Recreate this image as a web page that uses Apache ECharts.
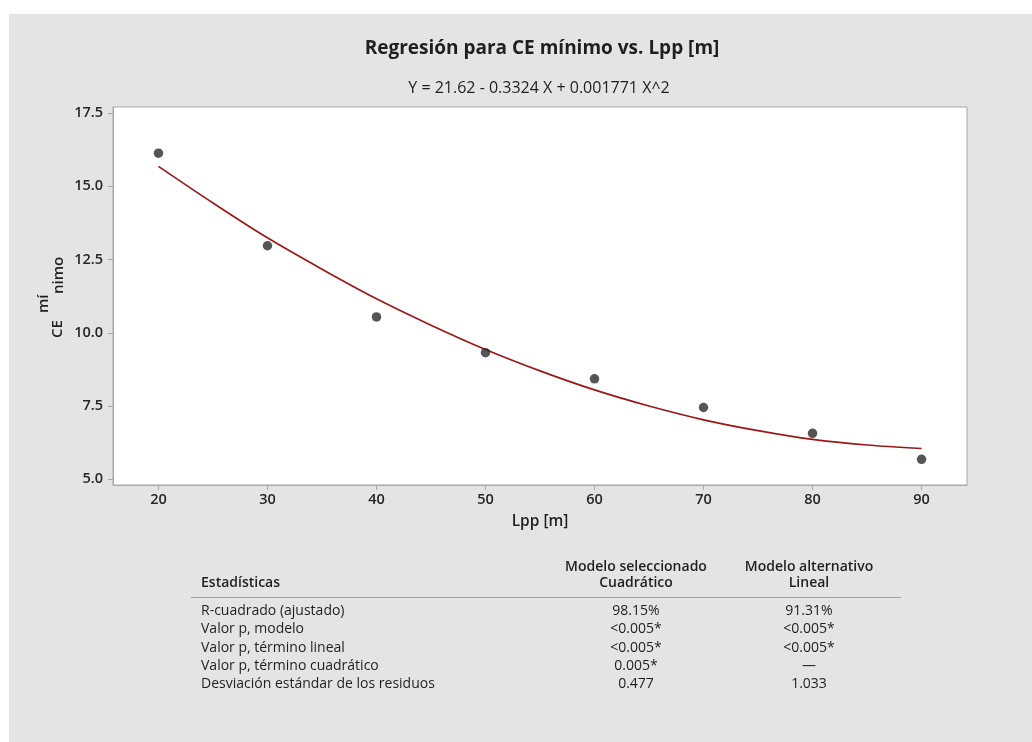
<!DOCTYPE html>
<html>
<head>
<meta charset="utf-8">
<script src="https://cdn.jsdelivr.net/npm/echarts@6/dist/echarts.min.js"></script>
<style>
html,body{margin:0;padding:0;background:#fff;}
#c{width:1032px;height:742px;}
</style>
</head>
<body>
<div id="c"></div>
<script>
// ---- Data ----
var lpp = [20, 30, 40, 50, 60, 70, 80, 90];
var ceMinimo = [16.13, 12.97, 10.54, 9.32, 8.43, 7.45, 6.57, 5.68];
// fitted curve
var fitX = [20, 25, 30, 35, 40, 45, 50, 55, 60, 65, 70, 75, 80, 85, 90];
var fitY = [15.68, 14.43, 13.24, 12.17, 11.16, 10.26, 9.43, 8.70, 8.05, 7.50, 7.03, 6.66, 6.36, 6.17, 6.05];
var xTicks = [20, 30, 40, 50, 60, 70, 80, 90];
var yTicks = [5.0, 7.5, 10.0, 12.5, 15.0, 17.5];

// table texts
var tableHeaderLeft = 'Estadísticas';
var colHeaders = [['Modelo seleccionado', 'Cuadrático'], ['Modelo alternativo', 'Lineal']];
var rowLabels = ['R-cuadrado (ajustado)', 'Valor p, modelo', 'Valor p, término lineal', 'Valor p, término cuadrático', 'Desviación estándar de los residuos'];
var colQuad = ['98.15%', '<0.005*', '<0.005*', '0.005*', '0.477'];
var colLin = ['91.31%', '<0.005*', '<0.005*', '—', '1.033'];

var FONT = '"Open Sans", "Noto Sans", sans-serif';
var TXT = '#1f1f1f';
var chart = echarts.init(document.getElementById('c'), null, {renderer: 'canvas'});

var graphics = [
  {type: 'rect', silent: true, z: -10, shape: {x: 9, y: 14, width: 1023, height: 728}, style: {fill: '#e4e4e4'}},
  // y axis name: CE + "mí"/"nimo" (rotated)
  {type: 'text', x: 57.5, y: 338, rotation: Math.PI / 2, style: {text: 'CE', font: '600 15px ' + FONT, fill: TXT, textAlign: 'left', textVerticalAlign: 'middle'}},
  {type: 'text', x: 44, y: 313, rotation: Math.PI / 2, style: {text: 'mí', font: '600 15px ' + FONT, fill: TXT, textAlign: 'left', textVerticalAlign: 'middle'}},
  {type: 'text', x: 59, y: 294, rotation: Math.PI / 2, style: {text: 'nimo', font: '600 15px ' + FONT, fill: TXT, textAlign: 'left', textVerticalAlign: 'middle'}},
  // table header
  {type: 'text', x: 201, y: 583, style: {text: tableHeaderLeft, font: '600 14px ' + FONT, fill: TXT, textAlign: 'left', textVerticalAlign: 'middle'}},
  {type: 'line', shape: {x1: 191, y1: 597.5, x2: 901, y2: 597.5}, style: {stroke: '#a0a0a0', lineWidth: 1}}
];
var colX = [636, 809];
colHeaders.forEach(function (h, i) {
  graphics.push({type: 'text', x: colX[i], y: 567, style: {text: h[0], font: '600 14px ' + FONT, fill: TXT, textAlign: 'center', textVerticalAlign: 'middle'}});
  graphics.push({type: 'text', x: colX[i], y: 583, style: {text: h[1], font: '600 14px ' + FONT, fill: TXT, textAlign: 'center', textVerticalAlign: 'middle'}});
});
rowLabels.forEach(function (r, i) {
  var y = 611 + i * 18.3;
  graphics.push({type: 'text', x: 201, y: y, style: {text: r, font: '14px ' + FONT, fill: TXT, textAlign: 'left', textVerticalAlign: 'middle'}});
  graphics.push({type: 'text', x: colX[0], y: y, style: {text: colQuad[i], font: '14px ' + FONT, fill: TXT, textAlign: 'center', textVerticalAlign: 'middle'}});
  graphics.push({type: 'text', x: colX[1], y: y, style: {text: colLin[i], font: '14px ' + FONT, fill: TXT, textAlign: 'center', textVerticalAlign: 'middle'}});
});

var option = {
  animation: false,
  backgroundColor: '#ffffff',
  title: [
    {text: 'Regresión para CE mínimo vs. Lpp [m]', left: 537, top: 34, textAlign: 'center',
      textStyle: {fontFamily: FONT, fontSize: 19, fontWeight: 'bold', color: TXT}},
    {text: 'Y = 21.62 - 0.3324 X + 0.001771 X^2', left: 534, top: 75, textAlign: 'center',
      textStyle: {fontFamily: FONT, fontSize: 16, fontWeight: 'normal', color: TXT}}
  ],
  grid: {left: 113, top: 107, right: 65, bottom: 257, show: true, backgroundColor: '#ffffff', borderColor: '#a8a8a8', borderWidth: 1},
  xAxis: {
    type: 'value', min: 15.83, max: 94.17,
    name: 'Lpp [m]', nameLocation: 'middle', nameGap: 29,
    nameTextStyle: {fontFamily: FONT, fontSize: 15.5, fontWeight: 600, color: TXT},
    axisLine: {show: true, lineStyle: {color: '#a8a8a8'}},
    axisTick: {show: true, length: 5, lineStyle: {color: '#a8a8a8'}, customValues: xTicks},
    axisLabel: {customValues: xTicks, margin: 7, fontFamily: FONT, fontSize: 14.5, fontWeight: 600, color: '#262626',
      formatter: function (v) { return String(Math.round(v)); }},
    splitLine: {show: false}
  },
  yAxis: {
    type: 'value', min: 4.805, max: 17.705,
    axisLine: {show: true, lineStyle: {color: '#a8a8a8'}},
    axisTick: {show: true, length: 5, lineStyle: {color: '#a8a8a8'}, customValues: yTicks},
    axisLabel: {customValues: yTicks, margin: 10, fontFamily: FONT, fontSize: 14.5, fontWeight: 600, color: '#262626',
      formatter: function (v) { return v.toFixed(1); }},
    splitLine: {show: false}
  },
  graphic: graphics,
  series: [
    {type: 'line', data: fitX.map(function (x, i) { return [x, fitY[i]]; }), smooth: 0.3, showSymbol: false,
      lineStyle: {color: '#9c1818', width: 1.7}, z: 2, silent: true},
    {type: 'scatter', data: lpp.map(function (x, i) { return [x, ceMinimo[i]]; }), symbol: 'circle', symbolSize: 9.5,
      itemStyle: {color: '#2b2b2b'}, z: 3}
  ]
};
chart.setOption(option);
</script>
</body>
</html>
